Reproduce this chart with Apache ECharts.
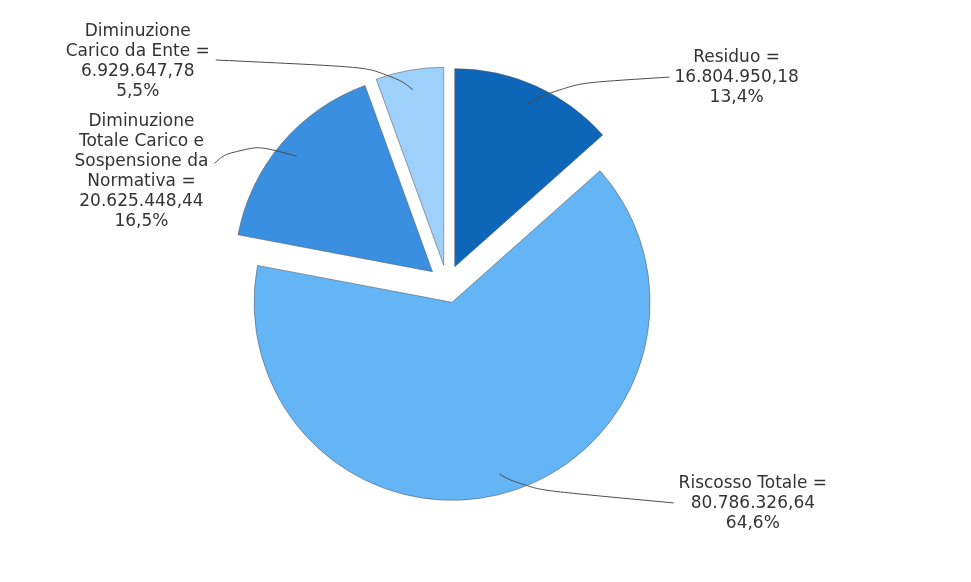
<!DOCTYPE html>
<html>
<head>
<meta charset="utf-8">
<script src="https://cdn.jsdelivr.net/npm/echarts@6/dist/echarts.min.js"></script>
<style>html,body{margin:0;padding:0;background:#fff}#c{width:971px;height:582px}</style>
</head>
<body>
<div id="c"></div>
<script>
// ---- data ----
var categories = [
  'Residuo',
  'Riscosso Totale',
  'Diminuzione\nTotale Carico e\nSospensione da\nNormativa',
  'Diminuzione\nCarico da Ente'
];
var values = [16804950.18, 80786326.64, 20625448.44, 6929647.78];
var colors = ['#0e66b9', '#64b5f6', '#3a8fe1', '#9dd0fa'];

// ---- layout (not data) ----
var CENTER = [447, 284];
var RADIUS = 198;
var OFFSET = 19;
var labelEdge = [180, 149, 89, 69];        // edgeDistance per slice label
var labelLen = [9.8, 11.2, -43, 8.4];      // radial label line length per slice
var labelMid = [[560, 84], [525, 489], [240, 141], [386, 68]];
var labelEndDy = [0, -1, -8, -2];

function fmtIt(v) {
  var s = v.toFixed(2);
  var parts = s.split('.');
  var ip = parts[0].replace(/\B(?=(\d{3})+(?!\d))/g, '.');
  return ip + ',' + parts[1];
}
var total = values.reduce(function (a, b) { return a + b; }, 0);
var midAngles = [];
(function () {
  var acc = 0;
  for (var i = 0; i < values.length; i++) {
    var a0 = acc / total * 2 * Math.PI;
    acc += values[i];
    var a1 = acc / total * 2 * Math.PI;
    midAngles.push((a0 + a1) / 2);
  }
})();

var chart = echarts.init(document.getElementById('c'), null, { renderer: 'canvas' });

var base = {
  type: 'pie',
  center: CENTER,
  radius: RADIUS,
  startAngle: 90,
  clockwise: true,
  selectedMode: 'multiple',
  selectedOffset: OFFSET,
  avoidLabelOverlap: false,
  emphasis: { disabled: true },
  silent: true
};

var slicesSeries = Object.assign({}, base, {
  name: 'slices',
  z: 2,
  data: categories.map(function (n, i) {
    return { name: n, value: values[i], selected: true, itemStyle: { color: colors[i] } };
  }),
  itemStyle: { borderColor: 'rgba(90,90,90,0.55)', borderWidth: 1 },
  select: { itemStyle: { borderColor: 'rgba(90,90,90,0.55)', borderWidth: 1 } },
  label: { show: false },
  labelLine: { show: false }
});

var labelSeries = Object.assign({}, base, {
  name: 'labels',
  z: 5,
  data: categories.map(function (n, i) {
    return {
      name: n, value: values[i], selected: true,
      label: { alignTo: 'edge', edgeDistance: labelEdge[i] },
      labelLine: { length: labelLen[i], length2: 0 }
    };
  }),
  itemStyle: { color: 'rgba(0,0,0,0)', borderWidth: 0 },
  select: { itemStyle: { color: 'rgba(0,0,0,0)', borderWidth: 0 } },
  label: {
    show: true,
    position: 'outside',
    fontFamily: 'DejaVu Sans',
    fontSize: 17,
    lineHeight: 20,
    color: '#333',
    formatter: function (p) {
      var pct = (p.value / total * 100).toFixed(1).replace('.', ',');
      var lines = (p.name + ' =\n' + fmtIt(p.value) + '\n' + pct + '%').split('\n');
      return lines.map(function (l) { return '{c|' + l + '}'; }).join('\n');
    },
    rich: {
      c: { align: 'center', fontFamily: 'DejaVu Sans', fontSize: 17, lineHeight: 20, color: '#333' }
    }
  },
  labelLine: {
    show: true,
    showAbove: true,
    smooth: 0.6,
    lineStyle: { color: '#4a4a4a', width: 1 }
  },
  labelLayout: function (params) {
    var i = params.dataIndex;
    var a = midAngles[i];
    var dx = Math.sin(a), dy = -Math.cos(a);
    var ox = OFFSET * dx, oy = OFFSET * dy;
    var sx = CENTER[0] + RADIUS * 0.9 * dx;
    var sy = CENTER[1] + RADIUS * 0.9 * dy;
    var r = params.labelRect; // in slice-local coordinates
    var right = r.x + r.width / 2 > CENTER[0];
    var ex = right ? r.x - 5 : r.x + r.width + 6;
    var ey = r.y + r.height / 2 + labelEndDy[i];
    return {
      labelLinePoints: [[sx, sy], [labelMid[i][0] - ox, labelMid[i][1] - oy], [ex, ey]]
    };
  }
});

chart.setOption({
  animation: false,
  series: [slicesSeries, labelSeries]
});
</script>
</body>
</html>
